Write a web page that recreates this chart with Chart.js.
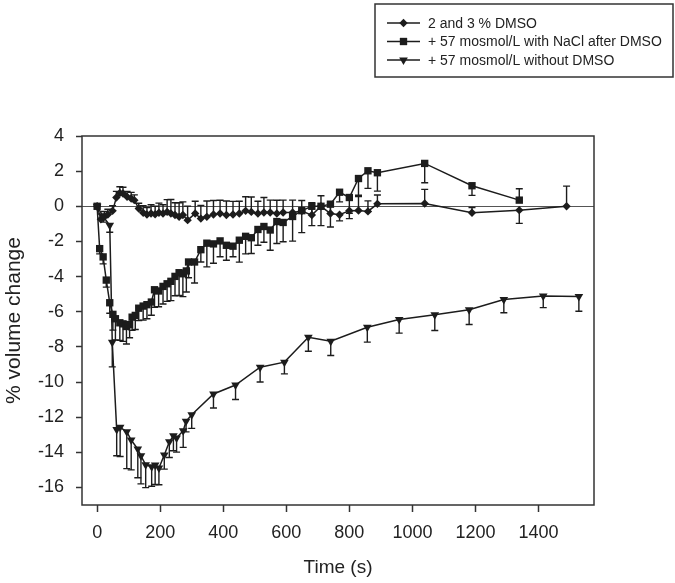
<!DOCTYPE html>
<html>
<head>
<meta charset="utf-8">
<style>
  html, body { margin: 0; padding: 0; background: #fff; }
  #wrap { width: 675px; height: 583px; position: relative; }
</style>
<script src="https://cdn.jsdelivr.net/npm/chart.js@4/dist/chart.umd.min.js"></script>
</head>
<body>
<div id="wrap"><canvas id="volumeChart" width="675" height="583"></canvas></div>
<script>
// Serie
const seriesLabels = ['2 and 3 % DMSO', '+ 57 mosmol/L with NaCl after DMSO', '+ 57 mosmol/L without DMSO'];
const xTickValues = [0, 200, 400, 600, 800, 1000, 1200, 1400];
const yTickValues = [-16, -14, -12, -10, -8, -6, -4, -2, 0, 2, 4];

// 2 and 3 % DMSO (errors: positive = bar above, negative = bar below)
const dmsoTime = [0, 12, 23, 34, 49, 61, 72, 82, 95, 108,
  118, 132, 146, 158, 171, 184, 196, 209, 222, 234,
  247, 260, 272, 287, 311, 329, 348, 369, 390, 410,
  431, 451, 471, 489, 510, 529, 549, 570, 590, 620,
  649, 681, 710, 740, 769, 800, 829, 859, 889, 1039,
  1189, 1339, 1489];
const dmsoChange = [0, -0.74, -0.6, -0.47, -0.26, 0.5, 0.76, 0.73, 0.54, 0.44,
  0.35, -0.13, -0.37, -0.47, -0.41, -0.45, -0.37, -0.41, -0.32, -0.41,
  -0.5, -0.6, -0.5, -0.79, -0.41, -0.7, -0.6, -0.47, -0.41, -0.5,
  -0.47, -0.41, -0.26, -0.32, -0.41, -0.35, -0.35, -0.41, -0.35, -0.35,
  -0.27, -0.5, 0, -0.41, -0.48, -0.25, -0.24, -0.29, 0.14, 0.16,
  -0.37, -0.22, 0];
const dmsoErr = [0, 0.3, 0.3, 0.3, 0.3, 0.35, 0.35, 0.35, 0.3, 0.35,
  0.3, 0.3, 0.4, 0.4, 0.5, 0.45, 0.55, 0.5, 0.7, 0.8,
  0.7, 0.8, 0.75, 0.8, 0.7, 0.75, 0.9, 0.8, 0.75, 0.8,
  0.75, 0.7, 0.8, 0.85, 0.7, 0.85, 0.7, 0.75, 0.7, 0.7,
  0.6, 0.7, 0.6, 0.6, -0.35, -0.45, 0.8, 0.6, 0.5, 0.8,
  0.3, -0.75, 1.15];

// + 57 mosmol/L with NaCl after DMSO
const naclTime = [0, 8, 19, 29, 40, 50, 58, 72, 82, 93,
  103, 111, 121, 132, 146, 158, 172, 182, 195, 209,
  222, 234, 247, 260, 272, 283, 290, 309, 329, 348,
  369, 390, 410, 431, 451, 471, 489, 510, 529, 549,
  570, 590, 620, 649, 681, 710, 740, 769, 800, 829,
  859, 889, 1039, 1189, 1339];
const naclChange = [0, -2.41, -2.88, -4.2, -5.49, -6.15, -6.4, -6.63, -6.69, -6.84,
  -6.73, -6.31, -6.21, -5.8, -5.68, -5.6, -5.45, -4.75, -4.82, -4.56,
  -4.41, -4.27, -3.99, -3.78, -3.84, -3.68, -3.17, -3.17, -2.47, -2.1,
  -2.14, -1.97, -2.22, -2.27, -1.93, -1.71, -1.79, -1.32, -1.15, -1.35,
  -0.87, -0.92, -0.58, -0.25, 0, 0, 0.12, 0.8, 0.5, 1.58,
  2.02, 1.91, 2.44, 1.17, 0.35];
const naclErr = [0, -0.3, -0.4, -0.4, -0.6, -0.9, -1.2, -1.0, -1.0, -1.0,
  -0.75, -0.75, -0.8, -0.7, -0.8, -0.8, -0.75, -1.0, -0.9, -1.0,
  -1.0, -1.1, -1.1, -1.3, -1.3, -1.2, -0.9, -1.2, -0.7, -1.35,
  -1.1, -0.9, -0.85, -0.6, -1.25, -1.0, -0.9, -0.9, -0.9, -1.15,
  -1.25, -1.1, -1.4, -1.25, -1.1, -1.1, -1.3, -0.55, -0.9, -0.95,
  -1.0, -1.05, -1.1, -0.55, 0.65];

// + 57 mosmol/L without DMSO
const noDmsoTime = [0, 20, 40, 48, 62, 73, 94, 108, 129, 139,
  154, 173, 184, 196, 213, 229, 242, 252, 273, 282,
  300, 369, 439, 517, 594, 670, 741, 857, 958, 1071,
  1180, 1290, 1415, 1528];
const noDmsoChange = [0, -0.6, -1.08, -7.74, -12.7, -12.58, -12.83, -13.3, -13.82, -14.2,
  -14.71, -14.83, -14.73, -14.9, -14.16, -13.4, -13.06, -13.19, -12.77, -12.24,
  -11.86, -10.68, -10.17, -9.16, -8.87, -7.45, -7.68, -6.88, -6.44, -6.17,
  -5.89, -5.3, -5.11, -5.13];
const noDmsoErr = [0, -0.3, -0.4, -1.4, -1.5, -1.66, -2.1, -1.7, -1.63, -1.6,
  -1.3, -1.1, -1.1, -0.95, -0.8, -0.9, -0.85, -0.8, -0.95, -0.6,
  -0.78, -0.8, -0.83, -0.84, -0.67, -0.8, -0.81, -0.85, -0.78, -0.9,
  -0.84, -0.76, -0.66, -0.84];

const ink = '#1c1c1c';
const textColor = '#222';
const fontFamily = '"Liberation Sans", Arial, sans-serif';

function toPoints(xs, ys) {
    return xs.map((x, i) => ({ x: x, y: ys[i] }));
}

const markerStyles = [
    { pointStyle: 'rectRot', radius: 4.2, rotation: 0 },
    { pointStyle: 'rect', radius: 5.2, rotation: 0 },
    { pointStyle: 'triangle', radius: 5, rotation: 180 }
];

function makeDataset(i, xs, ys, errs) {
    return {
        label: seriesLabels[i],
        data: toPoints(xs, ys),
        errors: errs,
        showLine: true,
        borderColor: ink,
        backgroundColor: ink,
        borderWidth: 1.5,
        tension: 0,
        pointStyle: markerStyles[i].pointStyle,
        pointRadius: markerStyles[i].radius,
        pointRotation: markerStyles[i].rotation,
        pointBorderWidth: 0,
        pointBackgroundColor: ink
    };
}

// Barre d'errore
const errorBars = {
    id: 'errorBars',
    beforeDatasetsDraw(chart) {
        const ctx = chart.ctx;
        const yScale = chart.scales.y;
        const area = chart.chartArea;
        ctx.save();
        ctx.beginPath();
        ctx.rect(area.left, area.top, area.right - area.left, area.bottom - area.top);
        ctx.clip();
        ctx.strokeStyle = ink;
        ctx.lineWidth = 1.4;
        chart.data.datasets.forEach((ds, i) => {
            const meta = chart.getDatasetMeta(i);
            meta.data.forEach((pt, j) => {
                const e = ds.errors[j];
                if (!e) return;
                const yEnd = yScale.getPixelForValue(ds.data[j].y + e);
                ctx.beginPath();
                ctx.moveTo(pt.x, pt.y);
                ctx.lineTo(pt.x, yEnd);
                ctx.moveTo(pt.x - 3.5, yEnd);
                ctx.lineTo(pt.x + 3.5, yEnd);
                ctx.stroke();
            });
        });
        ctx.restore();
    }
};

// Cornice e legenda
const frameAndLegend = {
    id: 'frameAndLegend',
    afterDraw(chart) {
        const ctx = chart.ctx;
        const a = chart.chartArea;
        ctx.save();
        ctx.strokeStyle = '#333';
        ctx.lineWidth = 1.5;
        ctx.strokeRect(a.left, a.top, a.right - a.left, a.bottom - a.top);

        // legend box
        ctx.strokeRect(375, 4, 298, 73);
        const rows = [23, 41.5, 60];
        ctx.font = '14px ' + fontFamily;
        ctx.textBaseline = 'middle';
        ctx.textAlign = 'left';
        rows.forEach((y, i) => {
            ctx.strokeStyle = ink;
            ctx.lineWidth = 1.5;
            ctx.beginPath();
            ctx.moveTo(387, y);
            ctx.lineTo(420, y);
            ctx.stroke();
            ctx.fillStyle = ink;
            Chart.helpers.drawPoint(ctx, {
                pointStyle: markerStyles[i].pointStyle,
                radius: markerStyles[i].radius,
                rotation: markerStyles[i].rotation,
                borderWidth: 0
            }, 403.5, y);
            ctx.fillStyle = textColor;
            ctx.fillText(seriesLabels[i], 428, y + 1);
        });
        ctx.restore();
    }
};

document.addEventListener('DOMContentLoaded', function() {
    const ctx = document.getElementById('volumeChart').getContext('2d');
    new Chart(ctx, {
        type: 'scatter',
        data: {
            datasets: [
                makeDataset(0, dmsoTime, dmsoChange, dmsoErr),
                makeDataset(1, naclTime, naclChange, naclErr),
                makeDataset(2, noDmsoTime, noDmsoChange, noDmsoErr)
            ]
        },
        options: {
            responsive: false,
            animation: false,
            layout: { padding: { top: 136, right: 81, left: 0, bottom: 0 } },
            plugins: {
                legend: { display: false },
                tooltip: { enabled: false }
            },
            scales: {
                x: {
                    type: 'linear',
                    min: -48,
                    max: 1576,
                    afterBuildTicks: (scale) => { scale.ticks = xTickValues.map(v => ({ value: v })); },
                    afterFit: (scale) => { scale.height = 78; },
                    ticks: {
                        padding: 10,
                        maxRotation: 0,
                        autoSkip: false,
                        callback: (v) => String(v),
                        color: textColor,
                        font: { family: fontFamily, size: 18 }
                    },
                    grid: {
                        drawOnChartArea: false,
                        tickLength: 7,
                        tickColor: '#333',
                        tickWidth: 1.5
                    },
                    border: { display: false },
                    title: {
                        display: true,
                        text: 'Time (s)',
                        color: textColor,
                        padding: { top: 0, bottom: 4 },
                        font: { family: fontFamily, size: 19 }
                    }
                },
                y: {
                    type: 'linear',
                    min: -17,
                    max: 4,
                    afterBuildTicks: (scale) => { scale.ticks = yTickValues.map(v => ({ value: v })); },
                    afterFit: (scale) => { scale.width = 82; },
                    ticks: {
                        padding: 12,
                        autoSkip: false,
                        callback: (v) => String(v),
                        color: textColor,
                        font: { family: fontFamily, size: 18 }
                    },
                    grid: {
                        drawOnChartArea: true,
                        color: (c) => (c.tick && c.tick.value === 0) ? '#555' : 'rgba(0,0,0,0)',
                        lineWidth: 1,
                        tickLength: 6,
                        tickColor: '#333',
                        tickWidth: 1.5
                    },
                    border: { display: false },
                    title: {
                        display: true,
                        text: '% volume change',
                        color: textColor,
                        padding: { top: 2, bottom: 0 },
                        font: { family: fontFamily, size: 21 }
                    }
                }
            }
        },
        plugins: [errorBars, frameAndLegend]
    });
});
</script>
</body>
</html>
